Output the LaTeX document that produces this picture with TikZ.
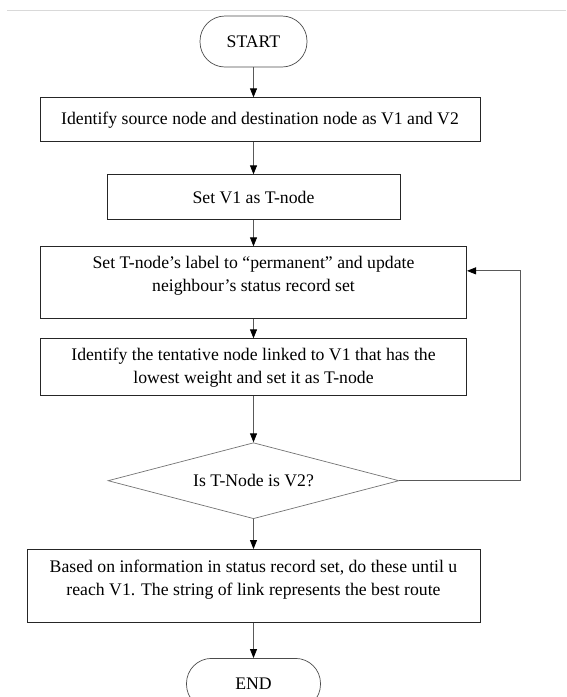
\documentclass[tikz,border=0pt]{standalone}
\usepackage{fontspec}
\setmainfont{Liberation Serif}
\usepackage{tikz}
\usetikzlibrary{shapes,arrows.meta,positioning}
\tikzstyle{block} = [rectangle, draw=black!85, line width=1pt, fill=white,
    align=center, inner sep=2pt]
\tikzstyle{term} = [rectangle, draw=black!70, line width=0.7pt, rounded corners=25pt,
    minimum height=51pt, align=center]
\tikzstyle{decision} = [diamond, draw=black!55, line width=0.7pt, inner sep=0pt,
    aspect=3.83, minimum width=291pt, minimum height=76pt]
\tikzstyle{line} = [draw, black!65, line width=0.8pt,
    -{Triangle[length=9pt,width=7pt,black]}]

\begin{document}
\begin{tikzpicture}[font=\fontsize{17.7}{23}\selectfont]
        \useasboundingbox (0pt,0pt) rectangle (566pt,-697pt);
        \draw [black!15, line width=1.5pt] (7pt,-10.5pt) -- (566pt,-10.5pt);
        % Steps
        \node [term, minimum width=107pt] (start) at (253.5pt,-41.5pt) {START};
        \node [block, below=30pt of start, xshift=6.5pt, minimum width=440pt,
            minimum height=44pt] (ident) {Identify source node and destination node as V1 and V2};
        \node [block, below=32pt of start|-ident.south, minimum width=293pt,
            minimum height=45pt] (setv) {Set V1 as T-node};
        \node [block, below=26pt of setv, minimum width=426pt, minimum height=72pt,
            text depth=17pt] (perm) {Set T-node’s label to “permanent” and update\\
            neighbour’s status record set};
        \node [block, below=19pt of perm, minimum width=426pt,
            minimum height=57pt] (tent) {Identify the tentative node linked to V1 that has the\\
            lowest weight and set it as T-node};
        \node [decision, below=46pt of tent] (check) {Is T-Node is V2?};
        \node [block, below=30pt of check, minimum width=453pt, minimum height=73pt,
            text depth=17.5pt] (route) {Based on information in status record set, do these until u\\
            reach V1. The string of link represents the best route};
        \node [term, below=35pt of route, minimum width=134pt] (stop) {END};

        % Connections
        \path [line] (start) -- (start|-ident.north);
        \path [line] (start|-ident.south) -- (setv);
        \path [line] (setv) -- (perm);
        \path [line] (perm) -- (tent);
        \path [line] (tent) -- (check);
        \path [line] (check.east) -- ++(121pt,0) |- ([yshift=12pt]perm.east);
        \path [line] (check) -- (route);
        \path [line] (route) -- (stop);
\end{tikzpicture}
\end{document}
